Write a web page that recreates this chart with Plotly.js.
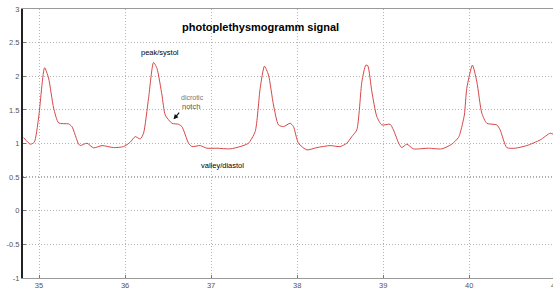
<!DOCTYPE html>
<html>
<head>
<meta charset="utf-8">
<script src="https://cdn.plot.ly/plotly-3.0.1.min.js"></script>
<style>
html,body{margin:0;padding:0;background:#fff;overflow:hidden;width:553px;height:290px;}
#chart{width:556px;height:290px;}
</style>
</head>
<body>
<div id="chart"></div>
<script>
// Signal (time in s, amplitude)
const timeS = [34.821,34.899,34.945,34.995,35.065,35.111,35.170,35.228,35.344,35.383,35.460,35.480,35.557,35.634,35.732,35.866,35.983,
36.060,36.118,36.177,36.215,36.273,36.331,36.371,36.429,36.467,36.545,36.621,36.661,36.738,36.777,36.873,36.951,37.067,37.222,37.338,
37.434,37.512,37.570,37.620,37.667,37.725,37.783,37.841,37.919,37.957,38.015,38.113,38.229,38.383,38.499,
38.577,38.635,38.693,38.752,38.798,38.821,38.868,38.926,38.984,39.080,39.119,39.185,39.216,39.274,39.351,39.525,39.681,
39.797,39.874,39.894,39.943,39.971,40.037,40.088,40.146,40.204,40.321,40.359,40.437,40.533,40.669,40.824,40.940,40.977];
const amplitude = [1.088,0.990,1.019,1.380,2.126,1.973,1.528,1.306,1.291,1.251,0.990,0.969,1.004,0.935,0.969,0.939,0.954,
1.019,1.102,1.068,1.153,1.672,2.206,2.117,1.721,1.424,1.301,1.286,1.251,1.004,0.954,0.969,0.930,0.930,0.920,0.954,
1.004,1.177,1.820,2.151,2.018,1.573,1.276,1.251,1.301,1.251,1.004,0.905,0.939,0.969,0.954,
1.004,1.102,1.202,1.918,2.166,2.156,1.770,1.399,1.276,1.286,1.202,0.990,0.939,0.990,0.920,0.930,0.920,
0.990,1.088,1.153,1.424,1.820,2.166,1.918,1.450,1.301,1.276,1.202,0.939,0.930,0.969,1.053,1.153,1.138];

const xTicks = [35,36,37,38,39,40,41];
const yTicks = [-1,-0.5,0,0.5,1,1.5,2,2.5,3];
const yTickText = ['-1','-0.5','0','0.5','1','1.5','2','2.5','3'];
const titleText = 'photoplethysmogramm signal';

const fam = 'Liberation Sans, Arial, sans-serif';
const tickFont = {family:fam, size:7.5, color:'#555'};
const noteFont = {family:fam, size:7.5, color:'#000'};

const trace = {
  x: timeS, y: amplitude, type:'scatter', mode:'lines',
  line:{color:'#d64848', width:1, shape:'spline', smoothing:0.6},
  hoverinfo:'skip'
};

const layout = {
  width:556, height:290,
  margin:{l:23, r:0, t:9, b:12, pad:0},
  paper_bgcolor:'#fff', plot_bgcolor:'#fff',
  showlegend:false,
  xaxis:{
    range:[34.814, 41.008], tickvals:xTicks, ticktext:xTicks.map(String),
    ticks:'inside', ticklen:3, tickcolor:'#777',
    showgrid:true, gridcolor:'#b5b5b5', griddash:'1px,2px', gridwidth:1,
    showline:true, linecolor:'#999', linewidth:1, mirror:true,
    zeroline:false, tickfont:tickFont
  },
  yaxis:{
    range:[-1, 3], tickvals:yTicks, ticktext:yTickText,
    ticks:'inside', ticklen:3, tickcolor:'#777',
    showgrid:true, gridcolor:'#b5b5b5', griddash:'1px,2px', gridwidth:1,
    showline:true, linecolor:'#222', linewidth:2, mirror:false,
    zeroline:false, tickfont:tickFont
  },
  shapes:[
    {type:'line', xref:'paper', x0:0, x1:1, yref:'y', y0:0.5, y1:0.5,
     line:{color:'#222', width:1, dash:'1px,2px'}, layer:'below'}
  ],
  annotations:[
    {text:'<b>'+titleText+'</b>', x:37.570, y:2.734, xref:'x', yref:'y', showarrow:false,
     font:{family:fam, size:11, color:'#000'}},
    {text:'peak/systol', x:36.411, y:2.359, xref:'x', yref:'y', showarrow:false, font:noteFont},
    {text:'dicrotic', x:36.629, y:1.687, xref:'x', yref:'y', xanchor:'left', showarrow:false,
     font:{family:fam, size:7, color:'#777'}},
    {text:'notch', x:36.641, y:1.547, xref:'x', yref:'y', xanchor:'left', showarrow:false,
     font:{family:fam, size:7.5, color:'#555'}},
    {text:'', x:36.563, y:1.361, xref:'x', yref:'y', showarrow:true, ax:7, ay:-8,
     arrowhead:2, arrowsize:0.8, arrowwidth:1.2, arrowcolor:'#111'},
    {text:'valley/diastol', x:37.131, y:0.668, xref:'x', yref:'y', showarrow:false, font:noteFont},
    {text:String(xTicks[6]), x:xTicks[6], xref:'x', y:0, yref:'paper', yanchor:'top', yshift:-1,
     showarrow:false, font:tickFont}
  ]
};

Plotly.newPlot('chart', [trace], layout, {displayModeBar:false, staticPlot:true});
</script>
</body>
</html>
